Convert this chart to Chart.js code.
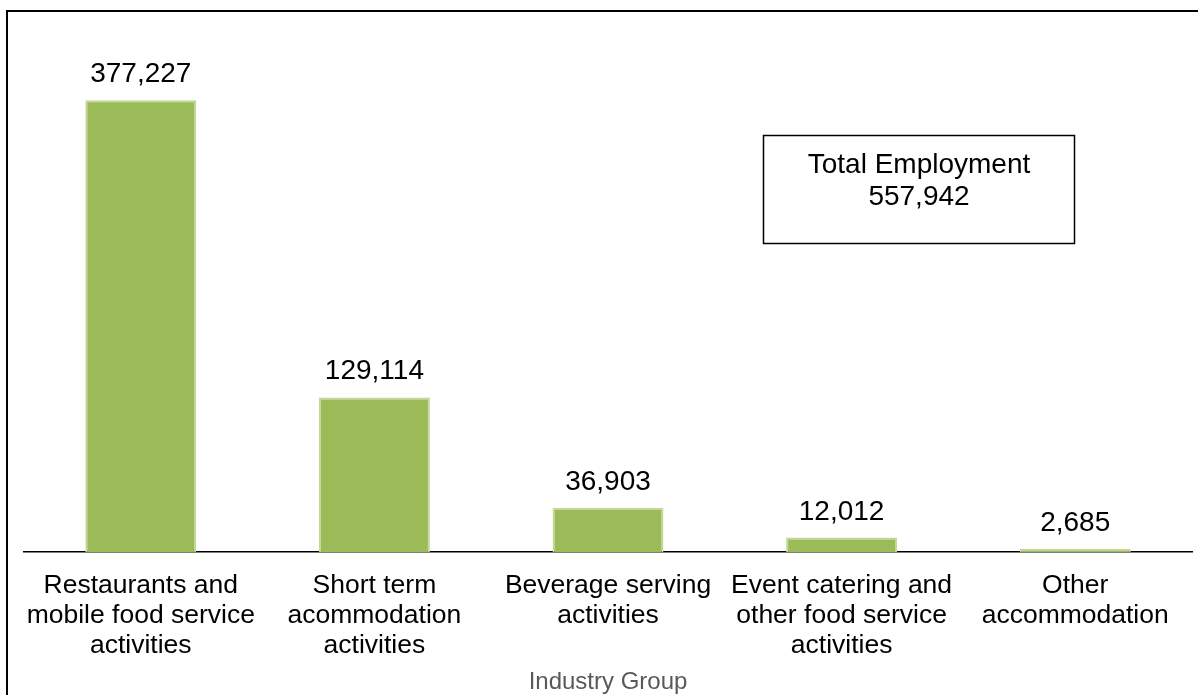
<!DOCTYPE html>
<html>
<head>
<meta charset="utf-8">
<script src="https://cdn.jsdelivr.net/npm/chart.js@4"></script>
<style>
  html, body { margin: 0; padding: 0; background: #fff; }
  #wrap { width: 1198px; height: 695px; position: relative; }
</style>
</head>
<body>
<div id="wrap"><canvas id="employment-chart" width="1198" height="695"></canvas></div>
<script>
// categories (split in lines as in the picture)
const industryGroups = [
    ['Restaurants and', 'mobile food service', 'activities'],
    ['Short term', 'acommodation', 'activities'],
    ['Beverage serving', 'activities'],
    ['Event catering and', 'other food service', 'activities'],
    ['Other', 'accommodation']
];
const employment = [377227, 129114, 36903, 12012, 2685];
const totalLabel = ['Total Employment', '557,942'];

const fmt = (v) => v.toLocaleString('en-US');

// frame, value labels and the total box
const extrasPlugin = {
    id: 'extras',
    afterDraw: (chart) => {
        const ctx = chart.ctx;
        ctx.save();
        // outer frame
        ctx.strokeStyle = '#000';
        ctx.lineWidth = 2;
        ctx.strokeRect(7, 11, 1300, 800);

        // value labels above bars
        ctx.fillStyle = '#000';
        ctx.font = '28px "Liberation Sans", Arial, sans-serif';
        ctx.textAlign = 'center';
        ctx.textBaseline = 'alphabetic';
        chart.getDatasetMeta(0).data.forEach((bar, i) => {
            ctx.fillText(fmt(employment[i]), bar.x, bar.y - 18);
        });

        // total box
        ctx.lineWidth = 1.5;
        ctx.strokeRect(763.5, 135.5, 311, 108);
        ctx.fillText(totalLabel[0], 919, 173);
        ctx.fillText(totalLabel[1], 919, 205);
        ctx.restore();
    }
};

const config = {
    type: 'bar',
    data: {
        labels: industryGroups,
        datasets: [{
            data: employment,
            backgroundColor: '#9BBB59',
            borderColor: '#C4D79B',
            borderWidth: 2,
            barPercentage: 1,
            categoryPercentage: 0.475
        }]
    },
    options: {
        responsive: false,
        animation: false,
        layout: { padding: { top: 73, left: 24, right: 6, bottom: 0 } },
        plugins: {
            legend: { display: false },
            tooltip: { enabled: false }
        },
        scales: {
            x: {
                grid: { display: false, drawTicks: false },
                border: { display: true, color: '#000', width: 1.5 },
                ticks: {
                    color: '#000',
                    autoSkip: false,
                    maxRotation: 0,
                    padding: 19,
                    font: { family: '"Liberation Sans", Arial, sans-serif', size: 26.5, lineHeight: 1.13 }
                },
                title: {
                    display: true,
                    text: 'Industry Group',
                    color: '#595959',
                    padding: { top: 1, bottom: 1 },
                    font: { family: '"Liberation Sans", Arial, sans-serif', size: 24, lineHeight: 1 }
                },
                afterFit: (scale) => { scale.height = 143; }
            },
            y: {
                display: false,
                min: 0,
                max: 400000
            }
        }
    },
    plugins: [extrasPlugin]
};

const ctx = document.getElementById('employment-chart').getContext('2d');
new Chart(ctx, config);
</script>
</body>
</html>
